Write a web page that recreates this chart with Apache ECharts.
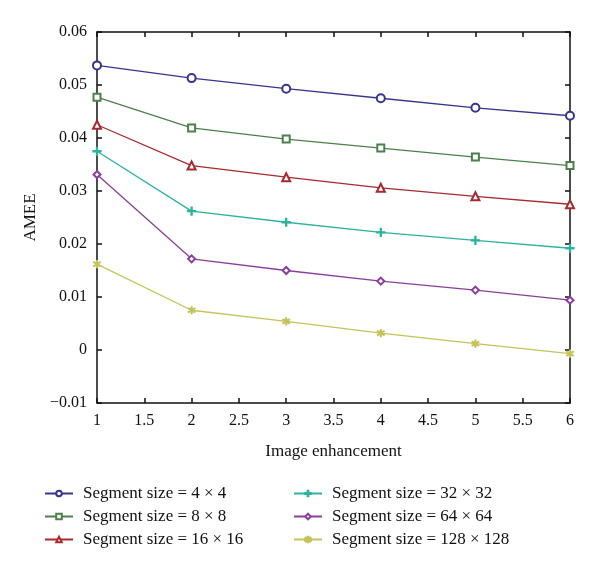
<!DOCTYPE html>
<html>
<head>
<meta charset="utf-8">
<script src="https://cdn.jsdelivr.net/npm/echarts@6/dist/echarts.min.js"></script>
<style>html,body{margin:0;padding:0;background:#fff}#c{width:600px;height:571px}</style>
</head>
<body>
<div id="c"></div>
<script>
const xValues = [1, 2, 3, 4, 5, 6];
const seriesNames = [
  'Segment size = 4 × 4',
  'Segment size = 8 × 8',
  'Segment size = 16 × 16',
  'Segment size = 32 × 32',
  'Segment size = 64 × 64',
  'Segment size = 128 × 128'
];
const seg4 = [0.0537, 0.0513, 0.0493, 0.0475, 0.0457, 0.0442];
const seg8 = [0.0477, 0.0419, 0.0398, 0.0381, 0.0364, 0.0348];
const seg16 = [0.0425, 0.0348, 0.0326, 0.0306, 0.0290, 0.0275];
const seg32 = [0.0375, 0.0262, 0.0241, 0.0222, 0.0207, 0.0192];
const seg64 = [0.0331, 0.0172, 0.0150, 0.0130, 0.0113, 0.0094];
const seg128 = [0.0162, 0.0075, 0.0054, 0.0032, 0.0012, -0.0007];
const yTicks = { min: -0.01, max: 0.06, interval: 0.01 };
const xTicks = { min: 1, max: 6, interval: 0.5 };

const allData = [seg4, seg8, seg16, seg32, seg64, seg128];
const colors = ['#35358f', '#4d7f4d', '#a62a30', '#2bb39f', '#8c3d9c', '#c5c35a'];
const plusPath = 'path://M4.3,0 L5.7,0 L5.7,4.3 L10,4.3 L10,5.7 L5.7,5.7 L5.7,10 L4.3,10 L4.3,5.7 L0,5.7 L0,4.3 L4.3,4.3 Z';
const starPath = 'path://M4.4,0 L5.6,0 L5.6,3.6 L8.9,1.7 L9.5,2.7 L6.2,4.6 L6.2,5.4 L9.5,7.3 L8.9,8.3 L5.6,6.4 L5.6,10 L4.4,10 L4.4,6.4 L1.1,8.3 L0.5,7.3 L3.8,5.4 L3.8,4.6 L0.5,2.7 L1.1,1.7 L4.4,3.6 Z';
const symbols = ['emptyCircle', 'emptyRect', 'emptyTriangle', plusPath, 'emptyDiamond', starPath];
const sizes = [8, 7, 8, 8, 7, 7];

const font = 'Liberation Serif';
const series = allData.map((d, i) => ({
  name: seriesNames[i],
  type: 'line',
  data: d.map((v, j) => [xValues[j], v]),
  symbol: symbols[i],
  symbolSize: sizes[i],
  showAllSymbol: true,
  lineStyle: { color: colors[i], width: 1.3 },
  itemStyle: { color: colors[i], borderColor: colors[i], borderWidth: 1.2 },
  emphasis: { disabled: true },
  animation: false,
  xAxisIndex: 0,
  yAxisIndex: 0
}));

const axisLine = { show: true, onZero: false, lineStyle: { color: '#111', width: 1.5 } };
const ticks = { show: true, inside: true, length: 5, lineStyle: { color: '#111', width: 1.5 } };
const labelStyle = { fontFamily: font, fontSize: 16, color: '#111' };

const legendCommon = {
  orient: 'vertical',
  itemWidth: 28,
  itemHeight: 7,
  itemGap: 6,
  textStyle: { fontFamily: font, fontSize: 17, color: '#111', padding: [0, 0, 0, 5] },
  selectedMode: false
};

const option = {
  backgroundColor: '#fff',
  animation: false,
  grid: { left: 97, right: 30, top: 32, bottom: 168 },
  legend: [
    Object.assign({ left: 39, top: 480, data: seriesNames.slice(0, 3) }, legendCommon),
    Object.assign({ left: 288, top: 480, data: seriesNames.slice(3) }, legendCommon)
  ],
  xAxis: [
    {
      type: 'value', min: xTicks.min, max: xTicks.max, interval: xTicks.interval,
      position: 'bottom',
      name: 'Image enhancement', nameLocation: 'middle', nameGap: 40,
      nameTextStyle: { fontFamily: font, fontSize: 17, color: '#111' },
      axisLine, axisTick: ticks, splitLine: { show: false },
      axisLabel: Object.assign({ margin: 10 }, labelStyle)
    },
    {
      type: 'value', min: xTicks.min, max: xTicks.max, interval: xTicks.interval,
      position: 'top', axisLine, axisTick: ticks, splitLine: { show: false },
      axisLabel: { show: false }
    }
  ],
  yAxis: [
    {
      type: 'value', min: yTicks.min, max: yTicks.max, interval: yTicks.interval,
      position: 'left',
      name: 'AMEE', nameLocation: 'middle', nameGap: 58,
      nameTextStyle: { fontFamily: font, fontSize: 17, color: '#111' },
      axisLine, axisTick: ticks, splitLine: { show: false },
      axisLabel: Object.assign({
        margin: 10,
        formatter: v => {
          if (Math.abs(v) < 1e-9) return '0';
          return (v < 0 ? '\u2212' : '') + Math.abs(v).toFixed(2);
        }
      }, labelStyle)
    },
    {
      type: 'value', min: yTicks.min, max: yTicks.max, interval: yTicks.interval,
      position: 'right', axisLine, axisTick: ticks, splitLine: { show: false },
      axisLabel: { show: false }
    }
  ],
  series
};

const chart = echarts.init(document.getElementById('c'), null, { renderer: 'canvas' });
chart.setOption(option);
</script>
</body>
</html>
